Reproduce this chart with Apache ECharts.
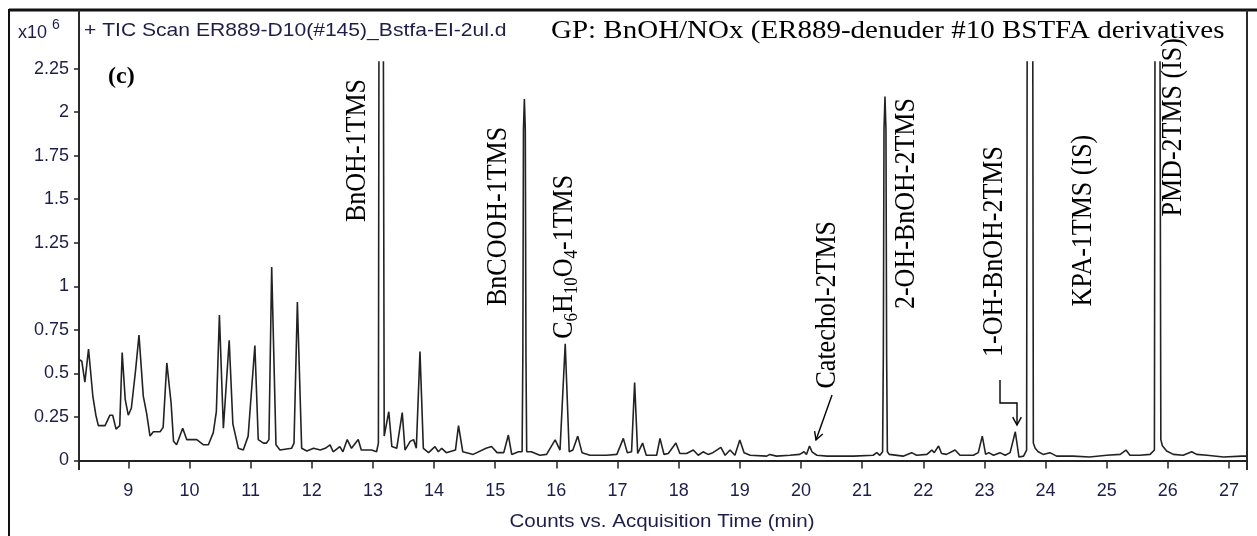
<!DOCTYPE html>
<html>
<head>
<meta charset="utf-8">
<script src="https://cdn.jsdelivr.net/npm/echarts@6/dist/echarts.min.js"></script>
<style>
  html, body { margin: 0; padding: 0; background: #fff; }
  #chart { width: 1257px; height: 536px; }
</style>
</head>
<body>
<div id="chart"></div>
<script>
// TIC trace: retention time (min) and abundance (x10^6 counts), one row per stretch of the run
const retentionTime = [
  8.194, 8.24, 8.29, 8.35, 8.42, 8.47, 8.51, 8.62, 8.70, 8.745, 8.80, 8.86, 8.90, 8.95, 9.00, 9.05, 9.12, 9.175, 9.245, 9.30, 9.355, 9.41, 9.52, 9.57, 9.63, 9.70, 9.74, 9.79, 9.89, 9.955,
  10.12, 10.23, 10.31, 10.39, 10.44, 10.49, 10.555, 10.65, 10.71, 10.80, 10.88, 10.96, 11.00, 11.07, 11.125, 11.21, 11.26, 11.30, 11.345, 11.415, 11.48, 11.67, 11.71, 11.765, 11.835, 11.92,
  12.03, 12.14, 12.22, 12.30, 12.35, 12.46, 12.51, 12.58, 12.65, 12.76, 12.81, 12.90, 12.98, 13.06, 13.09, 13.10, 13.17, 13.185, 13.21, 13.26, 13.31, 13.39, 13.48, 13.525, 13.61, 13.665, 13.71, 13.77, 13.825, 13.91,
  14.015, 14.07, 14.125, 14.20, 14.35, 14.40, 14.47, 14.64, 14.85, 14.94, 15.03, 15.14, 15.215, 15.27, 15.38, 15.44, 15.452, 15.462, 15.477, 15.492, 15.503, 15.515, 15.59, 15.73, 15.84, 15.98,
  16.06, 16.145, 16.21, 16.27, 16.35, 16.42, 16.55, 16.82, 16.99, 17.095, 17.16, 17.23, 17.28, 17.33, 17.41, 17.47, 17.64, 17.695, 17.76, 17.83, 17.955,
  18.02, 18.13, 18.24, 18.32, 18.40, 18.48, 18.56, 18.69, 18.76, 18.84, 18.92, 19.00, 19.07, 19.17, 19.44, 19.49, 19.60, 19.82, 19.98,
  20.05, 20.09, 20.14, 20.18, 20.21, 20.26, 20.43, 20.65, 20.86, 21.18, 21.24, 21.29, 21.335, 21.347, 21.358, 21.374, 21.39, 21.401, 21.413, 21.445, 21.67, 21.81, 21.89,
  22.06, 22.14, 22.18, 22.25, 22.30, 22.38, 22.52, 22.60, 22.82, 22.90, 22.965, 23.02, 23.07, 23.15, 23.255, 23.34, 23.42, 23.505, 23.565, 23.64, 23.69, 23.70, 23.79, 23.80, 23.83, 23.88, 23.96,
  24.07, 24.18, 24.45, 24.72, 25.00, 25.22, 25.315, 25.38, 25.54, 25.71, 25.78, 25.79, 25.87, 25.885, 25.91, 25.98, 26.09, 26.25, 26.39, 26.47, 26.64, 26.91, 27.21, 27.294
];
const abundance = [
  0.58, 0.57, 0.45, 0.64, 0.37, 0.26, 0.20, 0.20, 0.26, 0.26, 0.18, 0.20, 0.62, 0.35, 0.26, 0.30, 0.52, 0.72, 0.37, 0.27, 0.14, 0.165, 0.165, 0.19, 0.56, 0.33, 0.11, 0.09, 0.185, 0.12,
  0.12, 0.09, 0.09, 0.16, 0.28, 0.835, 0.185, 0.69, 0.21, 0.07, 0.06, 0.14, 0.33, 0.66, 0.12, 0.10, 0.10, 0.12, 1.11, 0.09, 0.06, 0.07, 0.10, 0.91, 0.07, 0.055,
  0.07, 0.06, 0.07, 0.09, 0.05, 0.08, 0.05, 0.12, 0.07, 0.12, 0.06, 0.06, 0.06, 0.05, 0.10, 2.6, 2.6, 0.14, 0.137, 0.28, 0.08, 0.07, 0.275, 0.06, 0.11, 0.12, 0.07, 0.625, 0.07, 0.045,
  0.08, 0.05, 0.07, 0.045, 0.06, 0.20, 0.05, 0.035, 0.07, 0.08, 0.045, 0.045, 0.146, 0.035, 0.05, 0.05, 0.6, 1.9, 2.075, 1.9, 0.6, 0.05, 0.05, 0.03, 0.035, 0.118,
  0.06, 0.67, 0.05, 0.06, 0.14, 0.045, 0.03, 0.03, 0.035, 0.127, 0.045, 0.05, 0.447, 0.04, 0.10, 0.03, 0.03, 0.127, 0.035, 0.04, 0.10,
  0.04, 0.04, 0.06, 0.03, 0.05, 0.035, 0.045, 0.075, 0.03, 0.06, 0.03, 0.118, 0.045, 0.03, 0.025, 0.035, 0.025, 0.03, 0.035,
  0.05, 0.035, 0.083, 0.05, 0.06, 0.03, 0.025, 0.025, 0.025, 0.03, 0.045, 0.03, 0.05, 0.6, 1.9, 2.09, 1.9, 0.6, 0.05, 0.035, 0.025, 0.045, 0.03,
  0.035, 0.06, 0.045, 0.083, 0.04, 0.035, 0.06, 0.03, 0.03, 0.045, 0.14, 0.035, 0.045, 0.03, 0.045, 0.03, 0.045, 0.165, 0.02, 0.025, 0.06, 2.6, 2.6, 0.10, 0.07, 0.05, 0.035,
  0.045, 0.025, 0.025, 0.02, 0.03, 0.035, 0.06, 0.03, 0.03, 0.035, 0.06, 2.6, 2.6, 0.12, 0.085, 0.055, 0.035, 0.03, 0.05, 0.035, 0.03, 0.02, 0.025, 0.025
];

// Axis ticks
const timeTicks = [9, 10, 11, 12, 13, 14, 15, 16, 17, 18, 19, 20, 21, 22, 23, 24, 25, 26, 27];
const abundanceTicks = [0, 0.25, 0.5, 0.75, 1, 1.25, 1.5, 1.75, 2, 2.25];

// Compound names
const compoundNames = ['BnOH-1TMS', 'BnCOOH-1TMS', 'C6H10O4-1TMS', 'Catechol-2TMS',
  '2-OH-BnOH-2TMS', '1-OH-BnOH-2TMS', 'KPA-1TMS (IS)', 'PMD-2TMS (IS)'];

// Where each name sits, in (time, abundance) units: the upper end of the upright text
const nameAnchors = [
  [12.74, 2.19], [15.05, 1.915], [16.14, 1.64], [20.43, 1.375],
  [21.72, 2.08], [23.17, 1.805], [24.62, 1.87], [26.09, 2.425]
];
// Pointer arrows, also in (time, abundance) units
const arrowPaths = [
  [[20.508, 0.376], [20.246, 0.118]],
  [[23.255, 0.462], [23.255, 0.33], [23.533, 0.33], [23.533, 0.204]]
];

const NAVY = '#1d1d4a';
const SANS = '"Liberation Sans", Arial, sans-serif';
const SERIF = '"Liberation Serif", "Times New Roman", serif';

const trace = retentionTime.map((t, i) => [t, abundance[i]]);

const chart = echarts.init(document.getElementById('chart'));

chart.setOption({
  animation: false,
  grid: { left: 79, right: 10, top: 62, bottom: 67 },
  xAxis: {
    type: 'value',
    min: 8.194,
    max: 27.294,
    axisLine: { lineStyle: { color: '#222', width: 2 } },
    axisTick: { length: 8, customValues: timeTicks, lineStyle: { color: '#222', width: 1.5 } },
    axisLabel: { customValues: timeTicks, color: NAVY, fontFamily: SANS, fontSize: 18, margin: 13 },
    splitLine: { show: false }
  },
  yAxis: {
    type: 'value',
    min: -0.0488,
    max: 2.2876,
    axisLine: { show: false },
    axisTick: { show: true, length: 5, customValues: abundanceTicks, lineStyle: { color: '#222', width: 1.5 } },
    axisLabel: {
      customValues: abundanceTicks, color: NAVY, fontFamily: SANS, fontSize: 18, margin: 10,
      formatter: v => String(+v.toFixed(2))
    },
    splitLine: { show: false }
  },
  series: [{
    type: 'line',
    data: trace,
    symbol: 'none',
    clip: true,
    lineStyle: { color: '#222', width: 1.6 }
  }]
});

const px = p => chart.convertToPixel({ gridIndex: 0 }, p);

function line(x1, y1, x2, y2, w, c) {
  return { type: 'line', silent: true, shape: { x1, y1, x2, y2 }, style: { stroke: c || '#111', lineWidth: w } };
}

const graphics = [
  // outer frame and plot box
  line(9, 10, 1257, 10, 3, '#111'),
  line(9, 9, 9, 536, 2, '#111'),
  line(79, 10, 79, 470, 2, '#2a2a2a'),
  line(1247, 10, 1247, 470, 2, '#2a2a2a'),
  // header texts
  { type: 'text', x: 18, y: 33, style: { text: 'x10', font: '18px ' + SANS, fill: NAVY, textAlign: 'left', textVerticalAlign: 'middle' } },
  { type: 'text', x: 52, y: 25, style: { text: '6', font: '14px ' + SANS, fill: NAVY, textAlign: 'left', textVerticalAlign: 'middle' } },
  { type: 'text', x: 84, y: 31, scaleX: 1.11, style: { text: '+ TIC Scan ER889-D10(#145)_Bstfa-EI-2ul.d', font: '19px ' + SANS, fill: NAVY, textAlign: 'left', textVerticalAlign: 'middle' } },
  { type: 'text', x: 551, y: 31, scaleX: 1.115, style: { text: 'GP: BnOH/NOx (ER889-denuder #10 BSTFA derivatives', font: '26px ' + SERIF, fill: '#000', textAlign: 'left', textVerticalAlign: 'middle' } },
  { type: 'text', x: 108, y: 77, style: { text: '(c)', font: 'bold 24px ' + SERIF, fill: '#000', textAlign: 'left', textVerticalAlign: 'middle' } },
  { type: 'text', x: 662, y: 522, scaleX: 1.11, style: { text: 'Counts vs. Acquisition Time (min)', font: '18.5px ' + SANS, fill: NAVY, textAlign: 'center', textVerticalAlign: 'middle' } }
];

// upright compound names
compoundNames.forEach((name, i) => {
  const p = px(nameAnchors[i]);
  const style = { font: '26px ' + SERIF, fill: '#000', textAlign: 'right', textVerticalAlign: 'middle' };
  if (name === 'C6H10O4-1TMS') {
    style.text = '{m|C}{s|6}{m|H}{s|10}{m|O}{s|4}{m|-1TMS}';
    style.rich = {
      m: { fontSize: 26, fontFamily: SERIF, lineHeight: 30, fill: '#000' },
      s: { fontSize: 17, fontFamily: SERIF, lineHeight: 30, verticalAlign: 'bottom', fill: '#000' }
    };
  } else {
    style.text = name;
  }
  graphics.push({ type: 'text', x: p[0], y: p[1], rotation: Math.PI / 2, scaleY: 1.1, style });
});

// pointer arrows with open heads
arrowPaths.forEach(path => {
  const pts = path.map(px);
  graphics.push({ type: 'polyline', silent: true, shape: { points: pts }, style: { stroke: '#000', lineWidth: 1.4, fill: null } });
  const tip = pts[pts.length - 1], prev = pts[pts.length - 2];
  const dx = tip[0] - prev[0], dy = tip[1] - prev[1];
  const len = Math.hypot(dx, dy), ux = dx / len, uy = dy / len;
  const a = 0.5, h = 9;
  const wing = s => [tip[0] - h * (ux * Math.cos(a) - s * uy * Math.sin(a)), tip[1] - h * (uy * Math.cos(a) + s * ux * Math.sin(a))];
  graphics.push({ type: 'polyline', silent: true, shape: { points: [wing(1), tip, wing(-1)] }, style: { stroke: '#000', lineWidth: 1.4, fill: null } });
});

chart.setOption({ graphic: graphics });
</script>
</body>
</html>
